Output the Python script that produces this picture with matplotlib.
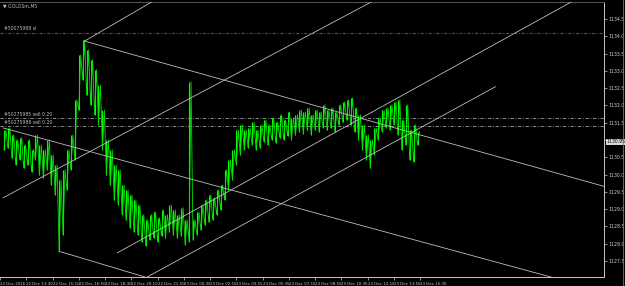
import numpy as np
import matplotlib.pyplot as plt
from matplotlib.lines import Line2D

# bar highs / lows (every 3rd M5 bar)
highs = [1131.29, 1131.35, 1131.15, 1131.01, 1131.07, 1130.86, 1131.01, 1130.72, 1131.15, 1130.86,
         1130.72, 1131.01, 1130.57, 1130.28, 1129.85, 1130.14, 1130.72, 1131.15, 1132.16, 1133.46,
         1133.89, 1133.61, 1133.32, 1133.03, 1132.59, 1131.87, 1131.01, 1130.72, 1130.28, 1130.14,
         1129.70, 1129.56, 1129.41, 1129.27, 1129.12, 1128.84, 1128.69, 1128.84, 1128.92, 1128.75,
         1128.98, 1128.84, 1129.12, 1128.98, 1128.84, 1129.04, 1128.69, 1132.68, 1128.69, 1128.92,
         1129.12, 1129.27, 1129.41, 1129.33, 1129.56, 1129.70, 1130.14, 1130.43, 1130.72, 1131.29,
         1131.44, 1131.29, 1131.35, 1131.52, 1131.29, 1131.44, 1131.58, 1131.44, 1131.64, 1131.52,
         1131.73, 1131.58, 1131.81, 1131.64, 1131.73, 1131.87, 1131.81, 1131.93, 1131.73, 1131.87,
         1131.81, 1132.02, 1131.87, 1131.93, 1131.81, 1132.02, 1132.10, 1132.16, 1132.22, 1131.93,
         1131.73, 1131.44, 1131.15, 1131.01, 1131.35, 1131.64, 1131.87, 1131.93, 1132.02, 1132.10,
         1132.16, 1131.58, 1132.02, 1131.29, 1131.44, 1131.24]
lows = [1130.72, 1130.77, 1130.48, 1130.28, 1130.43, 1130.19, 1130.28, 1130.08, 1130.43, 1129.99,
        1129.91, 1130.14, 1129.70, 1129.41, 1127.77, 1128.26, 1129.56, 1130.14, 1130.43, 1131.87,
        1132.74, 1132.30, 1132.02, 1131.73, 1131.44, 1130.72, 1129.99, 1129.70, 1129.27, 1129.12,
        1128.84, 1128.69, 1128.46, 1128.35, 1128.26, 1128.06, 1127.94, 1128.11, 1128.17, 1128.06,
        1128.23, 1128.17, 1128.35, 1128.26, 1128.17, 1128.23, 1127.97, 1128.06, 1128.11, 1128.26,
        1128.40, 1128.55, 1128.63, 1128.69, 1128.84, 1128.98, 1129.27, 1129.56, 1129.85, 1130.28,
        1130.57, 1130.72, 1130.77, 1130.86, 1130.72, 1130.77, 1130.95, 1130.86, 1131.01, 1130.92,
        1131.07, 1131.01, 1131.12, 1131.01, 1131.15, 1131.24, 1131.18, 1131.29, 1131.15, 1131.29,
        1131.24, 1131.35, 1131.29, 1131.35, 1131.24, 1131.44, 1131.52, 1131.58, 1131.44, 1131.24,
        1131.01, 1130.72, 1130.43, 1130.19, 1130.57, 1131.01, 1131.24, 1131.35, 1131.29, 1131.44,
        1131.15, 1130.72, 1130.86, 1130.43, 1130.37, 1130.86]
bars = 3 + 3 * np.arange(len(highs))

# trend lines: (bar1, price1, bar2, price2, ray?)
trend_lines = [
    (64.4, 1133.86, 118.2, 1135.05, True),
    (64.4, 1133.86, 459.1, 1129.67, True),
    (2.3, 1131.35, 413.7, 1127.10, True),
    (2.3, 1129.33, 274.3, 1134.82, True),
    (89.4, 1127.74, 437.9, 1135.05, True),
    (112.1, 1127.04, 377.3, 1132.54, False),
    (46.2, 1127.77, 112.1, 1127.02, False),
]

# order lines
sl_price = 1134.10
sl_label = '#50075988 sl'
order_prices = [1131.64, 1131.41]
order_labels = ['#50275985 sell 0.20', '#50275986 sell 0.20']
last_price = 1130.95

yticks = np.arange(1127.5, 1134.51, 0.5)
xtick_bars = np.arange(0, 340, 20)
xtick_labels = ['22 Dec 2016', '22 Dec 13:30', '22 Dec 15:10', '22 Dec 16:50', '22 Dec 18:30',
                '22 Dec 20:10', '22 Dec 21:50', '23 Dec 00:35', '23 Dec 02:15', '23 Dec 03:55',
                '23 Dec 05:35', '23 Dec 07:15', '23 Dec 08:55', '23 Dec 10:35', '23 Dec 12:15',
                '23 Dec 13:55', '23 Dec 15:35']

fnt = ['Liberation Sans Narrow', 'DejaVu Sans']
fs = 3.3
grey = '#c8c8c8'

fig = plt.figure(figsize=(6.25, 2.86), dpi=100, facecolor='black')
ax = fig.add_axes([0, 9 / 286, 604 / 625, 275 / 286])
ax.set_facecolor('black')
ax.set_xlim(2.3, 460)
ax.set_ylim(1127.04, 1134.99)

# bars plus a thin zigzag between them so the series looks dense
ax.vlines(bars, lows, highs, color='#00ff00', lw=0.8, zorder=3)
zx = np.ravel(np.column_stack([bars, bars + 1.5]))
zy = np.ravel(np.column_stack([lows, highs]))
ax.plot(zx, zy, color='#00e000', lw=0.6, zorder=3)

for b1, p1, b2, p2, ray in trend_lines:
    if ray:
        b2, p2 = b1 + 10 * (b2 - b1), p1 + 10 * (p2 - p1)
    ax.plot([b1, b2], [p1, p2], color='#bdbdbd', lw=0.6, zorder=4)

ax.axhline(sl_price, color='#c02020', lw=0.8, ls=(0, (3, 1.5, 1, 1.5)), zorder=2)
ax.text(3, sl_price + 0.04, sl_label, color='#bbbbbb', fontsize=fs, family=fnt, va='bottom')
for p, lab in zip(order_prices, order_labels):
    ax.axhline(p, color='#a0a0a0', lw=0.6, ls=(0, (4, 2, 1, 2)), zorder=2)
    ax.text(3, p + 0.03, lab, color='#bbbbbb', fontsize=fs, family=fnt, va='bottom')

ax.text(0.005, 0.995, '\u25bc GOLDSm,M5', transform=ax.transAxes, color='#bbbbbb',
        fontsize=fs, family=fnt, va='top')

ax.yaxis.tick_right()
ax.set_yticks(yticks)
# the 1131.0 label sits under the last-price box
ax.set_yticklabels(['' if abs(v - 1131.0) < 0.01 else '%.1f' % v for v in yticks], family=fnt)
ax.set_xticks(xtick_bars)
ax.set_xticklabels(xtick_labels, family=fnt, ha='left', fontsize=2.9)
ax.tick_params(colors=grey, labelcolor='#d0d0d0', labelsize=fs, length=2, width=0.5, pad=1.5)
ax.tick_params(axis='x', labelsize=2.9)

ax.text(1.004, last_price, '%.2f' % last_price, transform=ax.get_yaxis_transform(),
        fontsize=fs, family=fnt, color='black', va='center', ha='left', zorder=10,
        bbox=dict(boxstyle='square,pad=0.15', fc='#d8d8d8', ec='none'), clip_on=False)

ax.spines['left'].set_visible(False)
for s in ['right', 'bottom', 'top']:
    ax.spines[s].set_color(grey)
    ax.spines[s].set_linewidth(0.7)
ax.spines['top'].set_color('#555555')

fig.add_artist(Line2D([623 / 625] * 2, [0, 1], color='#777777', lw=0.6))

fig.savefig('out.png', dpi=100, facecolor='black')
